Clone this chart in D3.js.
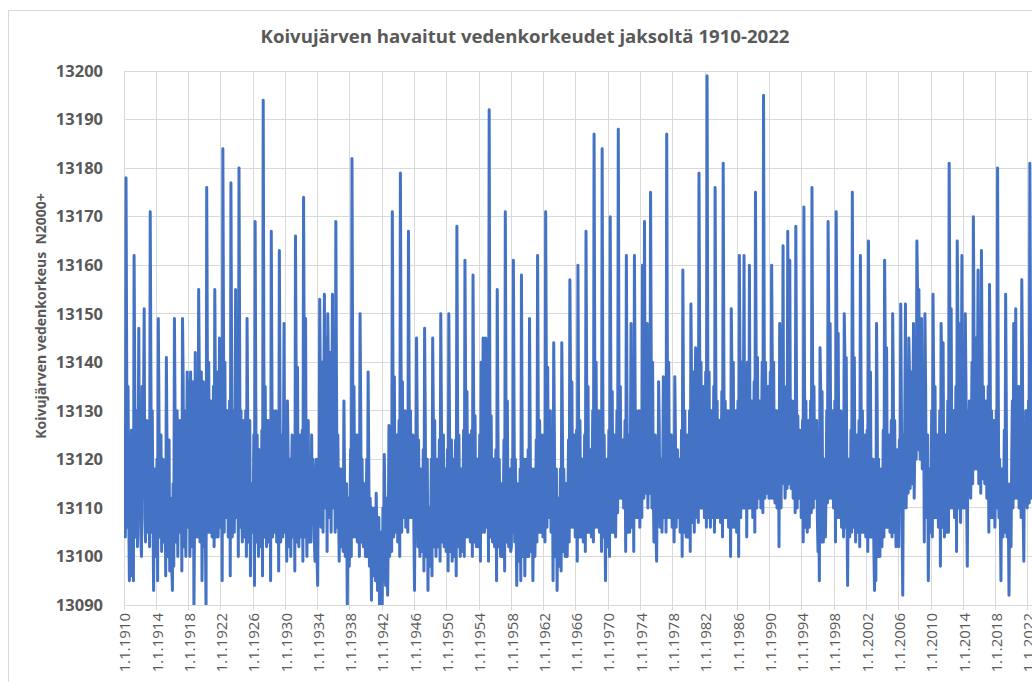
<!DOCTYPE html>
<html lang="fi">
<head>
  <meta charset="UTF-8">
  <title>Koivujärven vedenkorkeudet</title>
  <style>
    body {
      margin: 0;
      background: #fff;
      overflow: hidden;
    }
    svg text {
      font-family: "Open Sans", "Noto Sans", sans-serif;
      fill: #595959;
    }
    .grid line {
      stroke: #d9d9d9;
      stroke-width: 1;
      shape-rendering: crispEdges;
    }
  </style>
</head>
<body>
  <div id="chart"></div>

  <script src="https://cdn.jsdelivr.net/npm/d3@7"></script>
  <script>
    // texts
    const chartTitle = "Koivujärven havaitut vedenkorkeudet jaksoltä 1910-2022";
    const yTitle = "Koivujärven vedenkorkeus  N2000+";

    // axis ticks
    const yTicks = [13090, 13100, 13110, 13120, 13130, 13140, 13150, 13160, 13170, 13180, 13190, 13200];
    const xTickYears = [1910, 1914, 1918, 1922, 1926, 1930, 1934, 1938, 1942, 1946, 1950, 1954, 1958,
      1962, 1966, 1970, 1974, 1978, 1982, 1986, 1990, 1994, 1998, 2002, 2006, 2010, 2014, 2018, 2022];

    // monthly water levels (Jan..Dec), one row per year
    const firstYear = 1910;
    const perYear = 12;
    const lev1910 = [
      13117, 13128, 13104, 13178, 13140, 13106, 13135, 13110, 13095, 13120, 13112, 13126,
      13096, 13118, 13095, 13162, 13135, 13104, 13120, 13130, 13102, 13118, 13147, 13110,
      13125, 13104, 13100, 13135, 13112, 13130, 13151, 13108, 13103, 13122, 13128, 13105,
      13110, 13124, 13102, 13171, 13138, 13105, 13130, 13112, 13093, 13115, 13118, 13102,
      13100, 13120, 13095, 13149, 13130, 13104, 13118, 13125, 13101, 13112, 13120, 13103,
      13105, 13118, 13096, 13141, 13122, 13100, 13115, 13124, 13097, 13112, 13110, 13098,
      13093, 13115, 13098, 13149, 13128, 13103, 13121, 13130, 13100, 13118, 13112, 13128,
      13105, 13125, 13097, 13149, 13136, 13102, 13130, 13110, 13100, 13120, 13138, 13106,
      13110, 13136, 13100, 13138, 13128, 13102, 13120, 13136, 13089, 13110, 13142, 13104,
      13110, 13135, 13104, 13155, 13138, 13103, 13125, 13138, 13095, 13115, 13136, 13102
    ];
    const lev1920 = [
      13120, 13104, 13089, 13176, 13140, 13105, 13140, 13110, 13105, 13132, 13130, 13104,
      13110, 13135, 13102, 13155, 13132, 13104, 13120, 13138, 13104, 13112, 13145, 13106,
      13115, 13135, 13095, 13184, 13145, 13105, 13140, 13112, 13108, 13130, 13130, 13104,
      13110, 13132, 13096, 13177, 13140, 13104, 13130, 13108, 13105, 13125, 13155, 13108,
      13120, 13136, 13100, 13180, 13142, 13106, 13130, 13110, 13103, 13128, 13125, 13104,
      13110, 13130, 13100, 13149, 13128, 13103, 13120, 13128, 13096, 13115, 13115, 13105,
      13105, 13125, 13094, 13169, 13132, 13103, 13125, 13108, 13100, 13122, 13120, 13102,
      13108, 13126, 13096, 13194, 13140, 13104, 13135, 13110, 13102, 13125, 13128, 13103,
      13110, 13128, 13095, 13167, 13135, 13104, 13130, 13106, 13105, 13125, 13130, 13103,
      13115, 13126, 13097, 13163, 13130, 13103, 13125, 13108, 13104, 13120, 13148, 13105
    ];
    const lev1930 = [
      13120, 13110, 13099, 13132, 13122, 13102, 13110, 13120, 13100, 13115, 13125, 13104,
      13110, 13124, 13097, 13166, 13139, 13103, 13139, 13108, 13102, 13120, 13125, 13104,
      13105, 13126, 13099, 13174, 13140, 13104, 13149, 13110, 13100, 13122, 13128, 13103,
      13118, 13104, 13103, 13125, 13110, 13120, 13112, 13104, 13099, 13115, 13120, 13100,
      13094, 13120, 13108, 13153, 13135, 13106, 13125, 13140, 13105, 13130, 13154, 13110,
      13130, 13145, 13101, 13150, 13138, 13108, 13125, 13142, 13105, 13130, 13154, 13110,
      13120, 13138, 13105, 13169, 13135, 13106, 13125, 13110, 13099, 13118, 13118, 13102,
      13110, 13118, 13101, 13132, 13115, 13100, 13110, 13115, 13090, 13108, 13112, 13098,
      13108, 13122, 13100, 13182, 13140, 13104, 13135, 13110, 13104, 13122, 13125, 13103,
      13115, 13125, 13100, 13150, 13130, 13103, 13120, 13108, 13102, 13115, 13115, 13100
    ];
    const lev1940 = [
      13110, 13120, 13100, 13138, 13118, 13098, 13112, 13105, 13091, 13110, 13108, 13096,
      13102, 13110, 13095, 13113, 13105, 13093, 13100, 13108, 13088, 13100, 13105, 13092,
      13090, 13110, 13095, 13121, 13110, 13094, 13100, 13112, 13092, 13105, 13127, 13100,
      13110, 13125, 13101, 13171, 13137, 13104, 13137, 13110, 13105, 13125, 13125, 13103,
      13112, 13128, 13100, 13179, 13140, 13105, 13136, 13110, 13108, 13125, 13130, 13106,
      13115, 13128, 13105, 13167, 13135, 13108, 13130, 13112, 13108, 13124, 13125, 13106,
      13093, 13118, 13110, 13145, 13128, 13102, 13124, 13108, 13100, 13118, 13115, 13101,
      13108, 13122, 13097, 13147, 13128, 13100, 13115, 13120, 13093, 13110, 13110, 13098,
      13105, 13120, 13096, 13145, 13128, 13102, 13128, 13108, 13100, 13118, 13120, 13102,
      13110, 13124, 13099, 13150, 13130, 13103, 13120, 13125, 13102, 13115, 13118, 13101
    ];
    const lev1950 = [
      13108, 13122, 13097, 13150, 13128, 13101, 13115, 13124, 13099, 13112, 13120, 13100,
      13110, 13124, 13096, 13168, 13132, 13102, 13125, 13108, 13100, 13118, 13118, 13101,
      13112, 13126, 13100, 13161, 13134, 13104, 13134, 13110, 13104, 13122, 13125, 13103,
      13110, 13126, 13100, 13158, 13129, 13103, 13129, 13108, 13102, 13120, 13120, 13102,
      13112, 13125, 13099, 13140, 13128, 13105, 13145, 13110, 13105, 13125, 13145, 13106,
      13110, 13126, 13099, 13192, 13135, 13104, 13129, 13108, 13103, 13120, 13120, 13102,
      13108, 13122, 13095, 13155, 13128, 13102, 13120, 13106, 13100, 13115, 13115, 13100,
      13110, 13124, 13097, 13171, 13132, 13103, 13132, 13108, 13102, 13118, 13118, 13101,
      13102, 13120, 13105, 13161, 13130, 13103, 13120, 13108, 13094, 13112, 13115, 13099,
      13100, 13118, 13095, 13158, 13125, 13100, 13115, 13120, 13096, 13112, 13120, 13100
    ];
    const lev1960 = [
      13110, 13122, 13100, 13149, 13125, 13101, 13112, 13118, 13095, 13110, 13118, 13100,
      13108, 13124, 13103, 13162, 13130, 13105, 13128, 13110, 13105, 13120, 13125, 13104,
      13110, 13125, 13103, 13171, 13139, 13106, 13139, 13112, 13108, 13125, 13130, 13105,
      13110, 13120, 13095, 13144, 13125, 13100, 13115, 13118, 13093, 13110, 13112, 13098,
      13105, 13118, 13097, 13144, 13125, 13101, 13118, 13108, 13100, 13115, 13115, 13100,
      13110, 13124, 13103, 13157, 13136, 13106, 13136, 13110, 13106, 13122, 13125, 13104,
      13112, 13126, 13099, 13160, 13128, 13104, 13128, 13108, 13104, 13120, 13120, 13103,
      13110, 13125, 13101, 13167, 13135, 13105, 13135, 13110, 13105, 13122, 13122, 13104,
      13115, 13130, 13103, 13187, 13140, 13106, 13140, 13112, 13106, 13128, 13130, 13105,
      13115, 13128, 13101, 13184, 13135, 13104, 13125, 13110, 13095, 13118, 13120, 13102
    ];
    const lev1970 = [
      13110, 13126, 13100, 13170, 13134, 13105, 13134, 13110, 13105, 13122, 13125, 13104,
      13118, 13130, 13109, 13188, 13138, 13112, 13135, 13115, 13112, 13124, 13124, 13110,
      13115, 13128, 13101, 13162, 13130, 13105, 13125, 13110, 13105, 13122, 13148, 13106,
      13120, 13130, 13101, 13162, 13135, 13108, 13130, 13112, 13108, 13125, 13130, 13106,
      13115, 13130, 13108, 13160, 13140, 13112, 13169, 13118, 13113, 13130, 13148, 13110,
      13120, 13132, 13113, 13175, 13140, 13110, 13140, 13115, 13103, 13120, 13125, 13106,
      13099, 13118, 13110, 13136, 13125, 13106, 13113, 13120, 13105, 13115, 13137, 13108,
      13115, 13128, 13105, 13187, 13140, 13108, 13140, 13112, 13108, 13125, 13125, 13106,
      13110, 13122, 13103, 13137, 13125, 13106, 13115, 13122, 13108, 13118, 13120, 13105,
      13110, 13126, 13100, 13159, 13130, 13105, 13130, 13110, 13104, 13122, 13125, 13104
    ];
    const lev1980 = [
      13112, 13130, 13101, 13152, 13135, 13107, 13130, 13138, 13105, 13128, 13143, 13108,
      13120, 13138, 13107, 13179, 13145, 13110, 13140, 13115, 13110, 13132, 13135, 13108,
      13120, 13138, 13106, 13199, 13145, 13108, 13138, 13115, 13106, 13130, 13130, 13108,
      13120, 13135, 13105, 13176, 13140, 13108, 13132, 13114, 13108, 13128, 13128, 13107,
      13118, 13134, 13104, 13181, 13140, 13108, 13132, 13114, 13108, 13128, 13130, 13106,
      13112, 13130, 13100, 13151, 13138, 13106, 13140, 13112, 13106, 13128, 13130, 13105,
      13115, 13132, 13100, 13162, 13140, 13108, 13130, 13140, 13110, 13130, 13162, 13110,
      13125, 13138, 13104, 13140, 13130, 13110, 13160, 13115, 13110, 13132, 13130, 13108,
      13120, 13136, 13105, 13175, 13141, 13110, 13141, 13116, 13112, 13132, 13130, 13110,
      13125, 13140, 13109, 13195, 13145, 13112, 13140, 13118, 13113, 13134, 13135, 13112
    ];
    const lev1990 = [
      13120, 13138, 13112, 13160, 13140, 13112, 13140, 13118, 13111, 13130, 13130, 13110,
      13115, 13130, 13102, 13148, 13135, 13110, 13130, 13120, 13164, 13115, 13125, 13112,
      13120, 13135, 13114, 13167, 13140, 13115, 13161, 13120, 13114, 13132, 13130, 13112,
      13120, 13132, 13109, 13168, 13135, 13110, 13129, 13115, 13112, 13126, 13125, 13108,
      13110, 13128, 13103, 13172, 13135, 13106, 13132, 13112, 13105, 13124, 13128, 13106,
      13120, 13132, 13109, 13176, 13138, 13110, 13135, 13115, 13112, 13126, 13128, 13108,
      13101, 13115, 13095, 13143, 13134, 13103, 13134, 13110, 13103, 13120, 13120, 13104,
      13115, 13130, 13111, 13169, 13148, 13112, 13148, 13118, 13112, 13128, 13130, 13110,
      13118, 13132, 13103, 13171, 13146, 13108, 13146, 13115, 13108, 13126, 13130, 13106,
      13115, 13128, 13104, 13150, 13141, 13106, 13141, 13110, 13094, 13118, 13120, 13104
    ];
    const lev2000 = [
      13110, 13126, 13105, 13175, 13141, 13106, 13141, 13112, 13103, 13122, 13125, 13105,
      13115, 13128, 13102, 13162, 13135, 13105, 13130, 13112, 13105, 13122, 13125, 13104,
      13112, 13126, 13101, 13165, 13138, 13104, 13138, 13110, 13104, 13120, 13120, 13102,
      13093, 13112, 13095, 13148, 13130, 13100, 13120, 13108, 13100, 13116, 13118, 13102,
      13110, 13126, 13104, 13161, 13143, 13106, 13143, 13112, 13106, 13124, 13125, 13105,
      13115, 13128, 13104, 13150, 13135, 13105, 13128, 13112, 13102, 13120, 13122, 13104,
      13102, 13124, 13110, 13152, 13130, 13106, 13092, 13125, 13110, 13128, 13152, 13110,
      13120, 13135, 13113, 13145, 13138, 13114, 13125, 13138, 13115, 13130, 13148, 13112,
      13125, 13140, 13120, 13165, 13155, 13122, 13155, 13128, 13120, 13135, 13149, 13118,
      13120, 13135, 13103, 13150, 13135, 13108, 13115, 13125, 13095, 13112, 13118, 13105
    ];
    const lev2010 = [
      13112, 13130, 13104, 13154, 13135, 13108, 13135, 13112, 13108, 13125, 13125, 13106,
      13115, 13130, 13098, 13148, 13140, 13106, 13144, 13112, 13104, 13125, 13125, 13105,
      13115, 13132, 13105, 13181, 13151, 13110, 13151, 13115, 13110, 13130, 13130, 13108,
      13120, 13135, 13101, 13165, 13148, 13110, 13148, 13115, 13107, 13130, 13162, 13110,
      13125, 13138, 13110, 13150, 13135, 13112, 13098, 13130, 13115, 13132, 13130, 13112,
      13125, 13140, 13115, 13170, 13145, 13118, 13135, 13145, 13118, 13135, 13159, 13115,
      13130, 13142, 13113, 13163, 13140, 13116, 13135, 13120, 13115, 13132, 13130, 13112,
      13120, 13135, 13105, 13156, 13140, 13108, 13130, 13112, 13108, 13128, 13125, 13106,
      13115, 13130, 13110, 13180, 13135, 13108, 13120, 13110, 13095, 13118, 13118, 13104,
      13110, 13126, 13105, 13154, 13130, 13104, 13115, 13108, 13092, 13112, 13115, 13102
    ];
    const lev2020 = [
      13120, 13132, 13110, 13148, 13135, 13112, 13151, 13118, 13112, 13130, 13135, 13110,
      13120, 13135, 13108, 13157, 13140, 13110, 13099, 13125, 13115, 13130, 13130, 13110,
      13120, 13132, 13111, 13181, 13145, 13112, 13138
    ];

    const levels = [].concat(lev1910, lev1920, lev1930, lev1940, lev1950, lev1960,
      lev1970, lev1980, lev1990, lev2000, lev2010, lev2020);

    const W = 1032, H = 682;
    const plotLeft = 124, plotTop = 71, plotBottom = 605;
    const pxPerYear = 8.07;

    const svg = d3.select("#chart").append("svg")
      .attr("width", W)
      .attr("height", H);

    // outer chart border (right and bottom edges fall outside the picture)
    svg.append("rect")
      .attr("x", 8.5).attr("y", 10.5)
      .attr("width", 1100).attr("height", 700)
      .attr("fill", "#fff")
      .attr("stroke", "#d9d9d9");

    const x = d3.scaleLinear()
      .domain([1910, 2024])
      .range([plotLeft, plotLeft + 114 * pxPerYear]);
    const y = d3.scaleLinear()
      .domain([13090, 13200])
      .range([plotBottom, plotTop]);

    //gridlines
    const grid = svg.append("g").attr("class", "grid");
    grid.selectAll(".h").data(yTicks).enter().append("line")
      .attr("x1", plotLeft).attr("x2", x(2024))
      .attr("y1", d => y(d)).attr("y2", d => y(d));
    grid.selectAll(".v").data(xTickYears).enter().append("line")
      .attr("x1", d => x(d)).attr("x2", d => x(d))
      .attr("y1", plotTop).attr("y2", plotBottom + 5);

    // y tick labels
    svg.append("g").selectAll("text").data(yTicks).enter().append("text")
      .attr("x", 103)
      .attr("y", d => y(d))
      .attr("dy", "0.35em")
      .attr("text-anchor", "end")
      .style("font-size", "16.5px")
      .style("font-weight", "bold")
      .text(d => d);

    // x tick labels, rotated
    svg.append("g").selectAll("text").data(xTickYears).enter().append("text")
      .attr("transform", d => "translate(" + (x(d) + 1) + "," + (plotBottom + 8) + ") rotate(-90)")
      .attr("dy", "0.35em")
      .attr("text-anchor", "end")
      .style("font-size", "15px")
      .text(d => "1.1." + d);

    // the line, clipped to the plot area like the original
    svg.append("clipPath").attr("id", "plotclip")
      .append("rect")
      .attr("x", plotLeft).attr("y", plotTop - 3)
      .attr("width", W).attr("height", plotBottom - plotTop + 3);

    const line = d3.line()
      .x((d, i) => x(firstYear + i / perYear))
      .y(d => y(d));

    svg.append("path")
      .datum(levels)
      .attr("clip-path", "url(#plotclip)")
      .attr("fill", "none")
      .attr("stroke", "#4472c4")
      .attr("stroke-width", 3)
      .attr("stroke-linejoin", "round")
      .attr("stroke-linecap", "round")
      .attr("d", line);

    // titles
    svg.append("text")
      .attr("x", 525).attr("y", 43)
      .attr("text-anchor", "middle")
      .style("font-size", "18.6px")
      .style("font-weight", "bold")
      .text(chartTitle);

    svg.append("text")
      .attr("transform", "translate(46,316) rotate(-90)")
      .attr("text-anchor", "middle")
      .attr("xml:space", "preserve")
      .style("white-space", "pre")
      .style("font-size", "14px")
      .style("font-weight", "bold")
      .text(yTitle);
  </script>
</body>
</html>
